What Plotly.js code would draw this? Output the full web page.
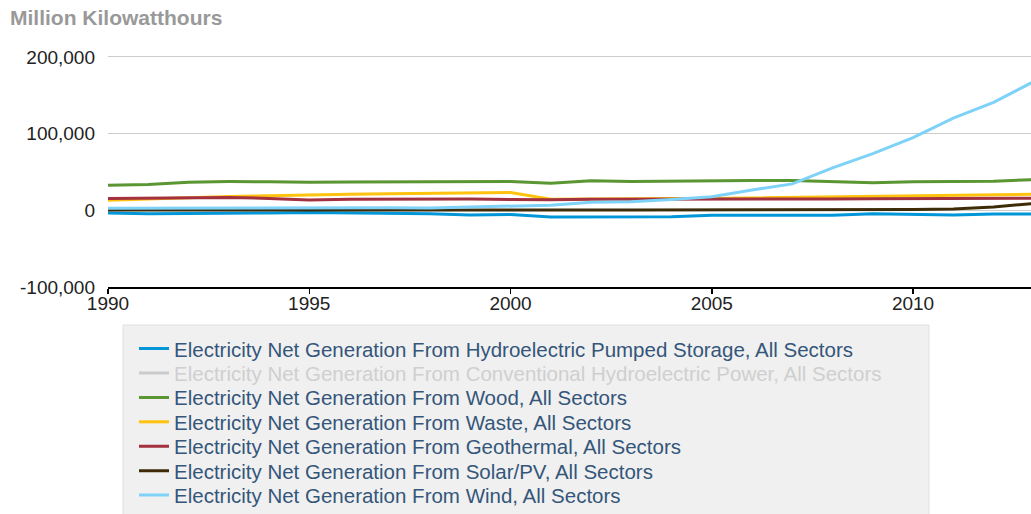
<!DOCTYPE html>
<html>
<head>
<meta charset="utf-8">
<script src="https://cdn.plot.ly/plotly-3.0.1.min.js"></script>
<style>html,body{margin:0;padding:0;background:#fff;}#chart{width:1031px;height:514px;}</style>
</head>
<body>
<div id="chart"></div>
<script>
const years = [1990,1991,1992,1993,1994,1995,1996,1997,1998,1999,2000,2001,2002,2003,2004,2005,2006,2007,2008,2009,2010,2011,2012,2013];

const pumpedStorage = [-3508,-4541,-4177,-4036,-3378,-2725,-3088,-4040,-4467,-6097,-5539,-8823,-8743,-8535,-8488,-6558,-6558,-6896,-6288,-4627,-5501,-6014,-4950,-4681];
const conventionalHydro = [292866,288994,253088,280494,260126,310833,347162,356453,323336,319536,275573,216961,264329,275806,268417,270321,289246,247510,254831,273445,260203,319355,276240,268565];
const wood = [32522,33698,36513,37452,37329,36529,36800,36947,36338,37041,37595,35200,38665,37529,38117,38856,38762,39014,37300,36050,37172,37449,37799,40028];
const waste = [13260,15000,17000,18000,19000,20405,20900,21700,22400,22600,23131,14548,15044,15812,15421,15420,16099,16525,17734,18443,18917,19222,19823,20830];
const geothermal = [15434,15966,16138,16789,15535,13378,14329,14726,14774,14827,14093,13741,14491,14424,14811,14692,14568,14637,14840,15009,15219,15316,15562,15775];
const solar = [367,462,416,462,480,497,521,511,502,495,493,543,555,534,575,550,508,612,864,891,1212,1818,4327,9036];
const wind = [2789,2951,2888,3006,3447,3164,3234,3288,3026,4488,5593,6737,10354,11187,14144,17811,26589,34450,55363,73886,94652,120177,140822,167840];

const seriesNames = [
  'Electricity Net Generation From Hydroelectric Pumped Storage, All Sectors',
  'Electricity Net Generation From Conventional Hydroelectric Power, All Sectors',
  'Electricity Net Generation From Wood, All Sectors',
  'Electricity Net Generation From Waste, All Sectors',
  'Electricity Net Generation From Geothermal, All Sectors',
  'Electricity Net Generation From Solar/PV, All Sectors',
  'Electricity Net Generation From Wind, All Sectors'
];
const seriesValues = [pumpedStorage, conventionalHydro, wood, waste, geothermal, solar, wind];
const seriesColors = ['#0096d7','#a8a8a8','#5a9632','#ffc20e','#a3313f','#3d2c07','#7ed2f8'];
const seriesVisible = [true,'legendonly',true,true,true,true,true];

const W = 1031, H = 514;
const legendIds = ['legend','legend2','legend3','legend4','legend5','legend6','legend7'];

const traces = seriesNames.map((n,i)=>({
  type:'scatter', mode:'lines', name:n, x:years, y:seriesValues[i],
  visible: seriesVisible[i], legend: legendIds[i],
  line:{color:seriesColors[i], width:3}
}));

const layout = {
  width:W, height:H,
  margin:{l:108, r:0, t:55, b:227, autoexpand:false},
  paper_bgcolor:'#fff', plot_bgcolor:'#fff',
  font:{family:'Liberation Sans, Arial, sans-serif', size:19, color:'#333'},
  title:{text:'<b>Million Kilowatthours</b>', x:10/W, xanchor:'left', xref:'container', y:1-18/H, yanchor:'middle', yref:'container',
         font:{size:21, color:'#999'}},
  xaxis:{range:[1990,2012.93], tickvals:[1990,1995,2000,2005,2010], ticktext:['1990','1995','2000','2005','2010'],
         showgrid:false, zeroline:false, showline:true, linecolor:'#000', linewidth:2, tickangle:0, automargin:false,
         ticks:'outside', ticklen:5, tickwidth:1.5, tickcolor:'#000', ticklabelstandoff:-7, tickfont:{size:19, color:'#222'}},
  yaxis:{range:[-100000,202500], tickvals:[-100000,0,100000,200000], ticktext:['-100,000','0','100,000','200,000'],
         showgrid:true, gridcolor:'#cccccc', gridwidth:1, zeroline:false, showline:false, automargin:false,
         ticks:'', ticklabelstandoff:12, tickfont:{size:19, color:'#222'}},
  showlegend:true,
  shapes:[{type:'rect', xref:'paper', yref:'paper', x0:(123-108)/923, x1:(929-108)/923, y0:(287-325)/232, y1:-1.5,
           fillcolor:'#f0f0f0', line:{color:'#e0e0e0', width:1}, layer:'below'}],
  hovermode:false
};

legendIds.forEach((id,i)=>{
  const yc = 348.7 + 24.43*i;
  layout[id] = {xref:'container', yref:'container', x:134/W, xanchor:'left', y:1-yc/H, yanchor:'middle',
    bgcolor:'rgba(0,0,0,0)', borderwidth:0, itemwidth:30,
    font:{size:20.5, color: seriesVisible[i]==='legendonly' ? '#b0b0b0' : '#34567a'}};
});

Plotly.newPlot('chart', traces, layout, {displayModeBar:false, staticPlot:true});
</script>
</body>
</html>
